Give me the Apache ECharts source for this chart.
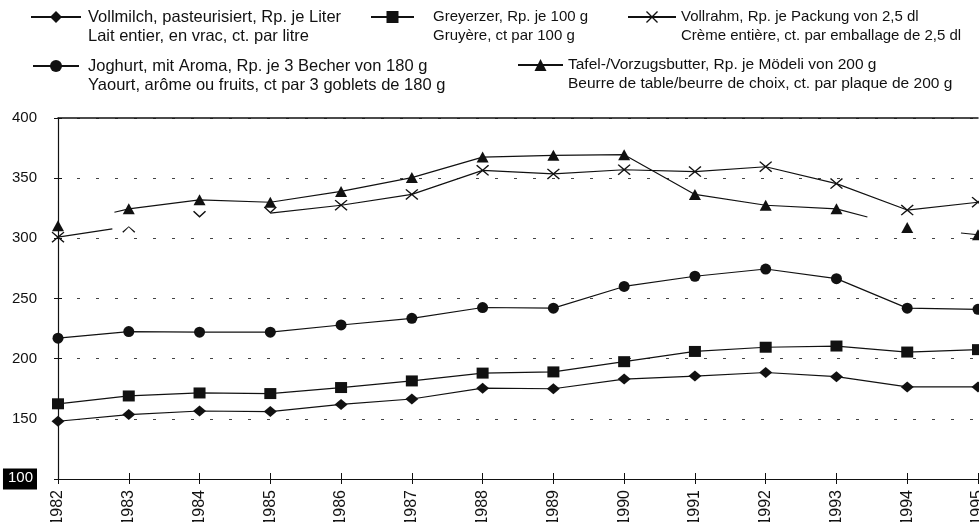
<!DOCTYPE html>
<html><head><meta charset="utf-8">
<script src="https://cdn.jsdelivr.net/npm/echarts@6/dist/echarts.min.js"></script>
<style>html,body{margin:0;padding:0;background:#fff}#c{width:979px;height:522px}</style>
</head><body><div id="c"></div>
<script>
// ---- data ----
const years = ['1982','1983','1984','1985','1986','1987','1988','1989','1990','1991','1992','1993','1994','1995'];
const milk   = [148, 153.5, 156.5, 156, 162, 166.5, 175.5, 175, 183, 185.5, 188.5, 185, 176.5, 176.5];
const cheese = [162.5, 169, 171.5, 171, 176, 181.5, 188, 189, 197.5, 206, 209.5, 210.5, 205.5, 207.5];
const yog    = [217, 222.5, 222, 222, 228, 233.5, 242.5, 242, 260, 268.5, 274.5, 266.5, 242, 241];
const cream  = [301, 310, 317.5, 321, 327.5, 336.5, 356.5, 353.5, 357, 355.5, 359.5, 345.5, 323.5, 330];
const butter = [310.5, 324.5, 332, 330, 339, 350.5, 367.5, 369, 369.5, 336.5, 327.5, 324.5, 309, 303];
const yMin = 100, yMax = 400, yStep = 50;

const milkLabel   = ['Vollmilch, pasteurisiert, Rp. je Liter', 'Lait entier, en vrac, ct. par litre'];
const cheeseLabel = ['Greyerzer, Rp. je 100 g', 'Gruyère, ct par 100 g'];
const creamLabel  = ['Vollrahm, Rp. je Packung von 2,5 dl', 'Crème entière, ct. par emballage de 2,5 dl'];
const yogLabel    = ['Joghurt, mit Aroma, Rp. je 3 Becher von 180 g', 'Yaourt, arôme ou fruits, ct par 3 goblets de 180 g'];
const butterLabel = ['Tafel-/Vorzugsbutter, Rp. je Mödeli von 200 g', 'Beurre de table/beurre de choix, ct. par plaque de 200 g'];

// ---- styling helpers ----
const FONT = '"Liberation Sans", Arial, Helvetica, sans-serif';
const INK = '#111';
const xPath = 'path://M0,1.6L1.6,0L10,8.4L18.4,0L20,1.6L11.6,10L20,18.4L18.4,20L10,11.6L1.6,20L0,18.4L8.4,10Z';
const xBottomHalf = 'path://M10,0L20,8.4L18.4,10L10,1.6L1.6,10L0,8.4Z';
const xTopHalf = 'path://M0,1.6L1.6,0L10,8.4L18.4,0L20,1.6L10,11.6Z';

const allLabels = [milkLabel, cheeseLabel, creamLabel, yogLabel, butterLabel];
function fmt(name) {
  const l = allLabels.find(a => a[0] === name);
  // blank first line so that the first text line sits level with the icon
  return l ? ' \n' + l[0] + '\n' + l[1] : name;
}
function pick(arr, idxs) { return arr.map((v, i) => idxs.indexOf(i) >= 0 ? v : null); }
function range(a, b) { const r = []; for (let i = a; i <= b; i++) r.push(i); return r; }

const lineStyle = { color: INK, width: 1.2 };
function segment(arr, idxs, dash) {
  return {
    type: 'line', data: pick(arr, idxs), symbol: 'none', silent: true, z: 2,
    lineStyle: Object.assign({}, lineStyle, dash ? { type: dash } : {}),
    connectNulls: false
  };
}

const creamData = cream.map((v, i) => {
  if (i === 1) return { value: v, symbol: xBottomHalf, symbolSize: [13, 6.5], symbolOffset: [0, 3.2] };
  if (i === 2 || i === 3) return { value: v, symbol: xTopHalf, symbolSize: [13, 7], symbolOffset: [0, -3] };
  return v;
});

const series = [
  { name: milkLabel[0], type: 'line', data: milk, symbol: 'diamond', symbolSize: [13, 11],
    lineStyle: lineStyle, itemStyle: { color: INK }, z: 3 },
  { name: cheeseLabel[0], type: 'line', data: cheese, symbol: 'rect', symbolSize: [12, 11],
    lineStyle: lineStyle, itemStyle: { color: INK }, z: 3 },
  { name: yogLabel[0], type: 'line', data: yog, symbol: 'circle', symbolSize: 11,
    lineStyle: lineStyle, itemStyle: { color: INK }, z: 3 },
  segment(cream, [0, 1], [55, 200]),
  segment(cream, range(3, 13)),
  { name: creamLabel[0], type: 'line', data: creamData, symbol: xPath, symbolSize: [13, 11],
    lineStyle: { color: INK, width: 1.2, opacity: 0 }, itemStyle: { color: INK }, z: 4 },
  segment(butter, [0, 1], [0, 58, 20, 100]),
  segment(butter, range(1, 11)),
  segment(butter, [11, 12], [32, 200]),
  segment(butter, [12, 13], [0, 54, 20, 100]),
  { name: butterLabel[0], type: 'line', data: butter, symbol: 'triangle', symbolSize: [12, 11],
    lineStyle: { color: INK, width: 1.2, opacity: 0 }, itemStyle: { color: INK }, z: 4 }
];

const LH = 19;
function legend(name, left, center, itemWidth, padLeft, fs) {
  return {
    data: [name], left: left, top: center - 1.5 * LH, orient: 'horizontal', padding: 0,
    itemWidth: itemWidth, itemHeight: 15, selectedMode: false,
    formatter: fmt,
    lineStyle: { width: 2, color: INK, opacity: 1, type: 'solid' },
    itemStyle: { color: INK, opacity: 1 },
    textStyle: { fontFamily: FONT, fontSize: fs, lineHeight: LH, color: INK,
      padding: [0, 0, 0, padLeft], backgroundColor: 'rgba(255,255,255,0)' }
  };
}

const chart = echarts.init(document.getElementById('c'), null, { renderer: 'canvas' });
chart.setOption({
  animation: false,
  backgroundColor: '#fff',
  textStyle: { fontFamily: FONT },
  grid: { left: 58, right: 1, top: 118, bottom: 43, containLabel: false, outerBoundsMode: 'none' },
  legend: [
    legend(milkLabel[0], 30, 17, 50, 2, 16.5),
    legend(cheeseLabel[0], 370, 17, 43, 14, 15),
    legend(creamLabel[0], 627, 17, 48, 0, 15),
    legend(yogLabel[0], 32, 66, 46, 4, 16.5),
    legend(butterLabel[0], 517, 65, 45, 0, 15.5)
  ],
  xAxis: [
    { type: 'category', data: years, boundaryGap: false, position: 'bottom',
      axisLine: { lineStyle: { color: INK, width: 1 } },
      axisTick: { show: true, length: 5, lineStyle: { color: INK } },
      axisLabel: { rotate: 90, fontSize: 16, color: INK, margin: 11, fontFamily: FONT, interval: 0 },
      splitLine: { show: false } },
    { type: 'category', data: years, boundaryGap: false, position: 'bottom',
      axisLine: { show: false },
      axisTick: { show: true, inside: true, length: 6, lineStyle: { color: INK } },
      axisLabel: { show: false }, splitLine: { show: false } },
    { type: 'category', data: years, boundaryGap: false, position: 'top',
      axisLine: { show: true, lineStyle: { color: INK, width: 1.5 } },
      axisTick: { show: false }, axisLabel: { show: false }, splitLine: { show: false } }
  ],
  yAxis: [
    { type: 'value', min: yMin, max: yMax, interval: yStep, position: 'left',
      axisLine: { show: true, lineStyle: { color: INK, width: 1.2 } },
      axisTick: { show: true, length: 4, lineStyle: { color: INK } },
      axisLabel: { fontSize: 15, color: INK, margin: 21, fontFamily: FONT,
        formatter: v => v === yMin ? '{box|' + v + '}' : String(v),
        rich: { box: { backgroundColor: '#000', color: '#fff', fontSize: 15, fontFamily: FONT,
          padding: [2, 4, 4, 5] } } },
      splitLine: { show: true, lineStyle: { color: '#444', width: 1, type: [3, 16] } } },
    { type: 'value', min: yMin, max: yMax, interval: yStep, position: 'left',
      axisLine: { show: false },
      axisTick: { show: true, inside: true, length: 4, lineStyle: { color: INK } },
      axisLabel: { show: false }, splitLine: { show: false } }
  ],
  series: series
});
</script>
</body></html>
